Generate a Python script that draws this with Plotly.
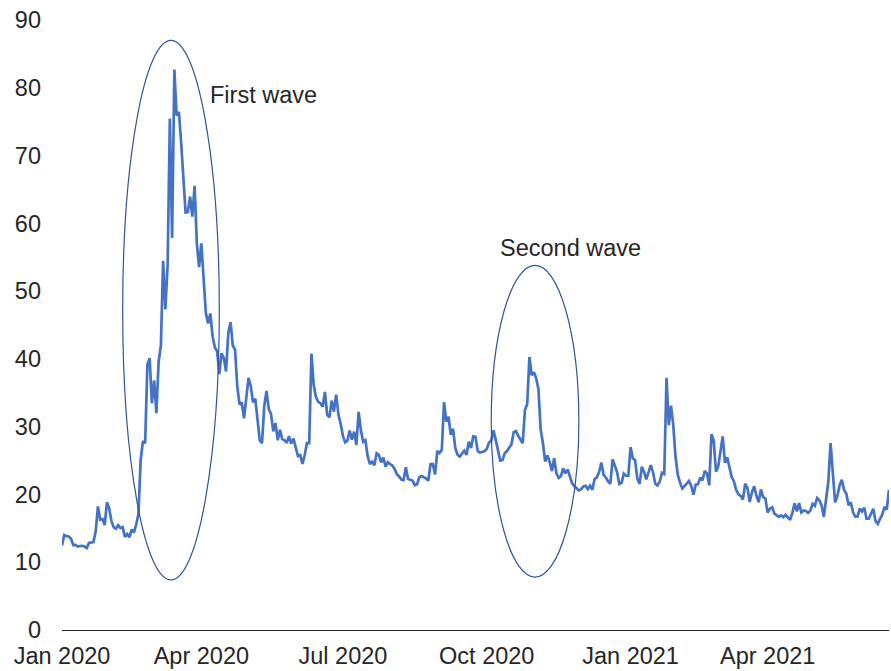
import pandas as pd
import plotly.graph_objects as go

# daily closes, one list per month (trading days only)
jan20 = [12.47, 14.02, 13.85, 13.79, 13.45, 12.54, 12.56, 12.32, 12.39, 12.42, 12.32, 12.10, 12.85, 12.91, 12.98, 14.56, 18.23, 16.28, 16.39, 15.49, 18.84]
feb20 = [17.97, 16.05, 15.15, 14.96, 15.47, 15.04, 15.18, 13.74, 14.15, 13.68, 14.83, 14.38, 15.56, 17.08, 25.03, 27.85, 27.56, 39.16, 40.11]
mar20 = [33.42, 36.82, 31.99, 39.62, 41.94, 54.46, 47.30, 53.90, 75.47, 57.83, 82.69, 75.91, 76.45, 72.00, 66.04, 61.59, 61.67, 63.95, 61.00, 65.54, 57.08, 53.54]
apr20 = [57.06, 50.91, 46.80, 45.24, 46.70, 43.35, 41.67, 41.17, 37.76, 40.84, 40.11, 38.15, 43.83, 45.41, 41.98, 41.38, 35.93, 33.29, 33.57, 31.23, 34.15]
may20 = [37.19, 35.97, 33.61, 34.12, 31.44, 27.98, 27.57, 33.04, 35.28, 32.61, 31.89, 29.30, 30.53, 27.99, 29.53, 28.16, 28.01, 27.62, 28.59, 27.51]
jun20 = [28.23, 26.84, 25.66, 25.81, 24.52, 25.81, 27.57, 27.57, 40.79, 36.09, 34.40, 33.67, 33.47, 32.94, 35.12, 31.77, 31.37, 33.84, 32.22, 34.73, 31.78, 30.43]
jul20 = [28.62, 27.68, 27.94, 29.43, 28.08, 29.26, 27.29, 32.19, 29.52, 27.76, 28.00, 25.68, 24.46, 24.84, 24.32, 26.08, 25.84, 24.74, 25.44, 24.10, 24.76, 24.46]
aug20 = [24.28, 23.76, 22.99, 22.65, 22.21, 22.13, 24.03, 22.28, 22.13, 22.05, 21.35, 21.51, 22.54, 22.72, 22.54, 22.37, 22.03, 24.47, 24.47, 22.96, 26.41]
sep20 = [26.12, 26.57, 33.60, 30.75, 31.46, 28.81, 29.71, 26.87, 25.85, 25.59, 26.04, 26.46, 25.83, 27.78, 26.86, 28.58, 28.51, 26.38, 26.19, 26.27, 26.37]
oct20 = [26.70, 27.63, 27.96, 29.48, 28.06, 26.36, 25.00, 25.07, 26.07, 26.40, 26.97, 27.41, 29.18, 29.35, 28.65, 28.11, 27.55, 32.46, 33.35, 40.28, 37.59, 38.02]
nov20 = [37.13, 35.55, 29.57, 27.58, 24.86, 25.75, 24.80, 23.45, 25.35, 23.10, 22.45, 22.71, 23.84, 23.11, 23.70, 22.66, 21.64, 21.25, 20.84, 20.57]
dec20 = [20.77, 21.17, 21.28, 20.79, 21.30, 20.68, 22.27, 22.52, 23.31, 24.72, 22.89, 22.50, 21.93, 21.57, 25.16, 24.23, 23.31, 21.53, 21.70, 23.08, 22.77, 22.75]
jan21 = [26.97, 25.34, 25.07, 22.37, 21.56, 24.08, 23.33, 22.21, 23.25, 24.34, 23.24, 21.58, 21.32, 21.91, 23.19, 23.02, 37.21, 30.21, 33.09]
feb21 = [30.24, 25.56, 22.91, 21.77, 20.87, 21.24, 21.63, 21.99, 21.25, 19.97, 21.46, 21.50, 22.49, 22.05, 23.45, 23.11, 21.34, 28.89, 27.95]
mar21 = [23.35, 24.10, 26.67, 28.57, 24.66, 25.47, 24.03, 22.56, 21.91, 20.69, 20.03, 19.79, 19.23, 21.58, 20.95, 18.88, 20.30, 21.20, 19.81, 18.86, 20.74, 19.61, 19.40]
apr21 = [17.33, 17.91, 18.12, 17.16, 16.95, 16.69, 16.91, 16.65, 16.99, 16.57, 16.25, 17.29, 18.68, 17.50, 18.71, 17.33, 17.64, 17.56, 17.28, 17.61, 18.61]
may21 = [18.31, 19.48, 19.15, 18.39, 16.69, 19.66, 21.84, 27.59, 23.13, 18.81, 19.72, 21.34, 22.18, 20.67, 20.15, 18.40, 18.84, 17.36, 16.74, 16.76]
jun21 = [17.90, 17.48, 18.04, 16.42, 16.42, 17.07, 17.89, 16.10, 15.65, 16.39, 17.02, 18.15, 17.75, 20.70]

holidays = ["2020-01-01", "2020-01-20", "2020-02-17", "2020-04-10", "2020-05-25", "2020-07-03",
            "2020-09-07", "2020-11-26", "2020-12-25", "2021-01-01", "2021-01-18", "2021-02-15",
            "2021-04-02", "2021-05-31"]

tick_dates = ["2020-01-02", "2020-04-01", "2020-07-01", "2020-10-01", "2021-01-04", "2021-04-01"]
tick_labels = ["Jan 2020", "Apr 2020", "Jul 2020", "Oct 2020", "Jan 2021", "Apr 2021"]

values = (jan20 + feb20 + mar20 + apr20 + may20 + jun20 + jul20 + aug20 + sep20 + oct20
          + nov20 + dec20 + jan21 + feb21 + mar21 + apr21 + may21 + jun21)
days = pd.bdate_range("2020-01-02", "2021-06-18")
days = days[~days.isin(pd.to_datetime(holidays))]
dates = list(days[:len(values)])

fig = go.Figure()
fig.add_trace(go.Scatter(x=dates, y=values, mode="lines",
                         line=dict(color="#4472C4", width=2.7), hoverinfo="x+y"))

ring = dict(type="circle", xref="x", yref="y", line=dict(color="#2F5597", width=1.2))
fig.add_shape(**ring, x0="2020-02-11", x1="2020-04-14", y0=7.4, y1=87.0)
fig.add_shape(**ring, x0="2020-10-05", x1="2020-11-30", y0=7.8, y1=53.8)

txt = dict(size=23.5, color="#262626", family="Liberation Sans, Arial")
fig.add_annotation(x="2020-04-06", y=78.9, text="First wave", showarrow=False,
                   xanchor="left", font=txt)
fig.add_annotation(x="2020-10-08", y=56.3, text="Second wave", showarrow=False,
                   xanchor="left", font=txt)

fig.update_layout(
    width=891, height=671,
    margin=dict(l=62, r=2, t=20, b=41),
    plot_bgcolor="white", paper_bgcolor="white",
    showlegend=False,
    font=dict(family="Liberation Sans, Arial", size=23.5, color="#262626"),
)
fig.update_xaxes(
    type="date",
    range=[dates[0], dates[-1]],
    rangebreaks=[dict(bounds=["sat", "mon"]), dict(values=holidays)],
    tickvals=tick_dates, ticktext=tick_labels,
    showgrid=False, showline=True, linecolor="#262626", linewidth=1,
    ticks="", ticklabelstandoff=5, automargin=False,
)
fig.update_yaxes(
    range=[0, 90], dtick=10, showgrid=False, zeroline=False,
    ticks="", ticklabelstandoff=20, automargin=False,
)

# drop the page's default 8px body margin so the figure sits at the window corner
fig.write_html("out.html", config={"displayModeBar": False},
               post_script="document.body.style.margin='0';document.body.style.overflow='hidden';")
